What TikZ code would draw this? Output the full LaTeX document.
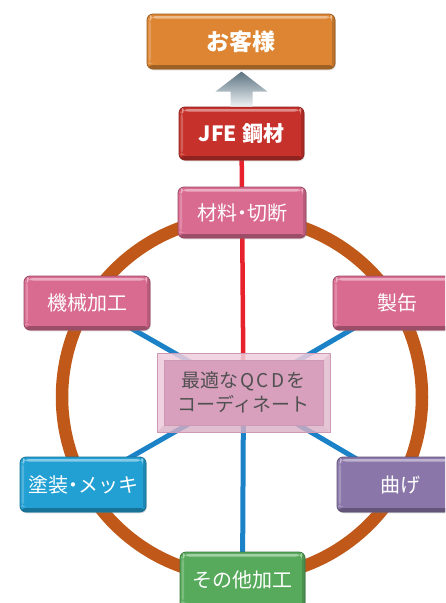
\documentclass[tikz,border=0pt]{standalone}
\usepackage{fontspec}
\setmainfont{Noto Sans CJK JP}
\usetikzlibrary{shadows}
\definecolor{cOrange}{HTML}{DD8532}
\definecolor{cRed}{HTML}{C6312B}
\definecolor{cPink}{HTML}{D96B90}
\definecolor{cBlue}{HTML}{22A0D3}
\definecolor{cPurple}{HTML}{8A76A9}
\definecolor{cGreen}{HTML}{57AA5B}
\definecolor{cRing}{HTML}{BF5818}
\definecolor{cLine}{HTML}{1B82C8}
\definecolor{cRedLine}{HTML}{E8222C}
\definecolor{cCtrIn}{HTML}{D9A0BE}
\definecolor{cCtrLight}{HTML}{F0CEDD}
\definecolor{cCtrDark}{HTML}{CC9AB4}
\definecolor{cCtrText}{HTML}{505050}
\definecolor{cArrTop}{HTML}{5B7381}
\definecolor{cArrBot}{HTML}{EEF2F4}
\pgfdeclarelayer{bg}
\pgfsetlayers{bg,main}
\tikzset{
  bev/.style={rounded corners=6pt, fill=#1, draw=#1!70!black, line width=0.8pt,
    text=white, inner sep=0pt, font=\fontsize{20}{24}\selectfont,
    drop shadow={shadow xshift=0.8pt, shadow yshift=-1.3pt, opacity=0.3},
    path picture={
      \fill[#1!72!black] ([yshift=4pt]path picture bounding box.south west) rectangle (path picture bounding box.south east);
      \fill[#1!72!black, opacity=0.5] ([xshift=-3pt]path picture bounding box.north east) rectangle (path picture bounding box.south east);
      \fill[white, opacity=0.45] ([xshift=3pt,yshift=-2pt]path picture bounding box.north west) rectangle ([xshift=-3pt,yshift=-4.5pt]path picture bounding box.north east);
      \fill[white, opacity=0.22] ([xshift=1.5pt,yshift=-4.5pt]path picture bounding box.north west) rectangle ([xshift=4pt,yshift=5pt]path picture bounding box.south west);
    }},
  ctrbox/.style={minimum width=173pt, minimum height=79pt, inner sep=0pt,
    draw=cCtrDark, line width=0.6pt, align=center, text=cCtrText,
    font=\fontsize{19}{24}\selectfont,
    path picture={
      \fill[cCtrLight, opacity=0.85] (path picture bounding box.north west) -- (path picture bounding box.north east)
        -- ([xshift=-7pt,yshift=-7pt]path picture bounding box.north east) -- ([xshift=7pt,yshift=-7pt]path picture bounding box.north west) -- cycle;
      \fill[cCtrLight!90!cCtrDark, opacity=0.85] (path picture bounding box.north west) -- ([xshift=7pt,yshift=-7pt]path picture bounding box.north west)
        -- ([xshift=7pt,yshift=7pt]path picture bounding box.south west) -- (path picture bounding box.south west) -- cycle;
      \fill[cCtrLight!55!cCtrDark, opacity=0.8] (path picture bounding box.north east) -- (path picture bounding box.south east)
        -- ([xshift=-7pt,yshift=7pt]path picture bounding box.south east) -- ([xshift=-7pt,yshift=-7pt]path picture bounding box.north east) -- cycle;
      \fill[cCtrLight!40!cCtrDark, opacity=0.8] (path picture bounding box.south west) -- (path picture bounding box.south east)
        -- ([xshift=-7pt,yshift=7pt]path picture bounding box.south east) -- ([xshift=7pt,yshift=7pt]path picture bounding box.south west) -- cycle;
      \fill[cCtrIn, draw=cCtrDark, line width=0.5pt] ([xshift=7pt,yshift=-7pt]path picture bounding box.north west) rectangle ([xshift=-7pt,yshift=7pt]path picture bounding box.south east);
    }},
  ringline/.style={draw=cRing, line width=12.5pt},
  blueline/.style={draw=cLine, line width=5pt},
  redline/.style={draw=cRedLine, line width=4.5pt},
}
\begin{document}
\begin{tikzpicture}[x=1pt,y=-1pt]
\useasboundingbox (0,0) rectangle (445,603);
\clip (0,0) rectangle (445,603);

\node[bev=cOrange, minimum width=188pt, minimum height=55pt, font=\bfseries\fontsize{23}{26}\selectfont] (okyaku) at (241,41.5) {お客様};
\node[bev=cRed, minimum width=125pt, minimum height=53pt, font=\bfseries\fontsize{21}{24}\selectfont] (jfe) at (241.5,133.5) {JFE 鋼材};
\node[bev=cPink, minimum width=128pt, minimum height=51pt] (zairyo) at (242,212.5) {材料\kern-0.25em・\kern-0.25em切断};
\node[bev=cPink, minimum width=126pt, minimum height=54pt] (kikai) at (87,303) {機械加工};
\node[bev=cPink, minimum width=128pt, minimum height=54pt] (seikan) at (397,303) {製缶};
\node[bev=cBlue, minimum width=126pt, minimum height=55pt] (tosou) at (83,484.5) {塗装\kern-0.25em・\kern-0.25emメッキ};
\node[bev=cPurple, minimum width=126pt, minimum height=55pt] (mage) at (400,484.5) {曲げ};
\node[bev=cGreen, minimum width=125pt, minimum height=56pt] (sonota) at (242.5,580) {その他加工};
\node[ctrbox] (ctr) at (243.5,392.5) {最適な\kern0.12em Q\kern0.12em C\kern0.12em D\kern0.12em を\\コーディネート};

\begin{pgfonlayer}{bg}
  \draw[ringline] (242,397) circle (180pt);
  \draw[redline] (jfe.center) -- (ctr.center);
  \draw[blueline] (ctr.center) -- (kikai.center);
  \draw[blueline] (ctr.center) -- (seikan.center);
  \draw[blueline] (ctr.center) -- (tosou.center);
  \draw[blueline] (ctr.center) -- (mage.center);
  \draw[blueline] (ctr.center) -- (sonota.center);
\end{pgfonlayer}

\shade[top color=cArrTop, bottom color=cArrBot]
  ([xshift=-11pt]jfe.north) -- ([xshift=-11pt,yshift=15pt]jfe.north)
  -- ([xshift=-26pt,yshift=15pt]jfe.north) -- ([yshift=35pt]jfe.north)
  -- ([xshift=26pt,yshift=15pt]jfe.north) -- ([xshift=11pt,yshift=15pt]jfe.north)
  -- ([xshift=11pt]jfe.north) -- cycle;
\end{tikzpicture}
\end{document}
